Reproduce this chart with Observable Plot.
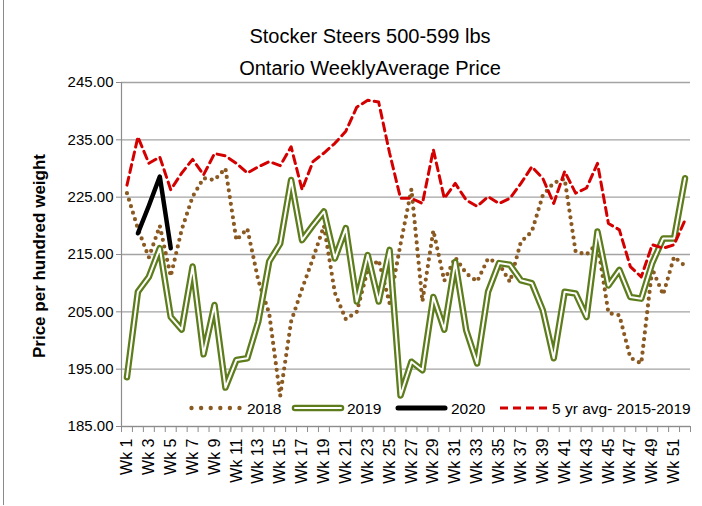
<!DOCTYPE html>
<html><head><meta charset="utf-8">
<script src="https://cdn.jsdelivr.net/npm/d3@7"></script>
<script src="https://cdn.jsdelivr.net/npm/@observablehq/plot@0.6"></script>
<style>
body{margin:0;background:#fff;}
#wrap{position:relative;width:702px;height:506px;overflow:hidden;background:#fff;font-family:"Liberation Sans",Arial,sans-serif;}
#frame{position:absolute;left:3px;top:0;width:698px;height:505px;border-left:1px solid #8a8a8a;box-sizing:border-box;pointer-events:none}
.title{position:absolute;left:0;width:740px;text-align:center;font-size:20px;color:#000;line-height:32px}
#ylab{position:absolute;left:40px;top:256px;transform:translate(-50%,-50%) rotate(-90deg);font-weight:bold;font-size:17px;white-space:nowrap;color:#000}
#overlay{position:absolute;left:0;top:0}
</style></head>
<body><div id="wrap">
<div class="title" style="top:20px">Stocker Steers 500-599 lbs</div>
<div class="title" style="top:52px">Ontario WeeklyAverage Price</div>
<div id="ylab">Price per hundred weight</div>
<div id="frame"></div>
</div>
<script>
const weeks = ["Wk 1","Wk 2","Wk 3","Wk 4","Wk 5","Wk 6","Wk 7","Wk 8","Wk 9","Wk 10","Wk 11","Wk 12","Wk 13","Wk 14","Wk 15","Wk 16","Wk 17","Wk 18","Wk 19","Wk 20","Wk 21","Wk 22","Wk 23","Wk 24","Wk 25","Wk 26","Wk 27","Wk 28","Wk 29","Wk 30","Wk 31","Wk 32","Wk 33","Wk 34","Wk 35","Wk 36","Wk 37","Wk 38","Wk 39","Wk 40","Wk 41","Wk 42","Wk 43","Wk 44","Wk 45","Wk 46","Wk 47","Wk 48","Wk 49","Wk 50","Wk 51","Wk 52"];
const s2018 = [225.7,219.5,214.5,220.0,211.2,219.3,225.1,228.3,228.0,230.0,217.5,219.5,210.5,204.7,190.3,203.3,209.0,214.3,220.0,208.3,203.7,205.0,212.3,214.0,206.5,216.8,226.4,206.8,219.2,210.4,214.5,211.7,210.3,214.3,213.4,210.2,217.2,219.0,225.3,227.5,228.2,215.5,215.0,217.0,204.8,204.4,197.0,196.0,212.5,208.0,214.6,213.0];
const s2019 = [193.6,208.5,211.1,216.1,204.1,201.9,212.9,197.6,206.2,191.8,196.6,196.9,203.3,213.8,216.9,228.0,217.5,220.1,222.5,214.3,219.6,206.8,214.9,206.8,215.8,190.4,196.3,194.8,207.6,201.9,213.7,201.8,196.0,208.5,213.5,213.2,210.5,210.0,205.3,196.9,208.5,208.2,204.1,219.0,209.6,212.3,207.6,207.3,213.5,217.8,217.8,228.3];
const s2020 = [null,218.7,223.5,228.6,216.1];
const avg5 = [227.1,235.5,230.9,232.0,226.3,229.2,231.6,228.9,232.6,232.2,230.9,229.2,230.3,231.2,230.5,233.8,226.3,231.2,232.7,234.4,236.5,240.7,241.9,241.6,232.7,224.8,224.8,223.9,233.3,224.8,227.4,224.5,223.4,225.1,223.9,224.8,227.4,230.3,228.3,223.9,229.5,225.7,226.6,230.9,220.4,219.3,212.9,211.1,216.7,216.1,216.7,221.0];
const yTicks = [185,195,205,215,225,235,245];
const seriesNames = ["2018","2019","2020","5 yr avg- 2015-2019"];

const toRows = arr => arr.map((v,i)=>({x:i+0.5, v})).filter(d=>d.v!=null);
const r2018 = toRows(s2018), r2019 = toRows(s2019), r2020 = toRows(s2020), rAvg = toRows(avg5);

const GREEN = "#5d7c1b", BROWN = "#8a5a22", RED = "#d40000", GRID = "#a3a3a3", AX = "#8c8c8c";
const labelTicks = d3.range(0, weeks.length, 2).map(i => i + 0.5);

const chart = Plot.plot({
  width: 702, height: 506,
  marginLeft: 121, marginRight: 12, marginTop: 82, marginBottom: 80,
  style: {fontFamily: '"Liberation Sans",Arial,sans-serif', fontSize: "15px", color: "#000", background: "transparent", overflow: "visible"},
  x: {type: "linear", domain: [0, weeks.length]},
  y: {domain: [185, 245]},
  marks: [
    Plot.gridY(yTicks, {stroke: GRID, strokeOpacity: 1, strokeWidth: 1.3}),
    Plot.axisY(yTicks, {tickFormat: d => d.toFixed(2), tickSize: 5, tickPadding: 3, stroke: AX, fontSize: 15, label: null}),
    Plot.ruleX([0], {stroke: AX, strokeWidth: 1.2}),
    Plot.ruleY([185], {stroke: AX, strokeWidth: 1.2}),
    Plot.axisX(d3.range(0, weeks.length + 1), {tickFormat: () => "", tickSize: 6, stroke: AX, label: null}),
    Plot.axisX(labelTicks, {tickFormat: d => weeks[Math.round(d - 0.5)], tickRotate: -90, tickSize: 0, tickPadding: 12, fontSize: 16, label: null}),
    Plot.line(r2018, {x: "x", y: "v", stroke: BROWN, strokeWidth: 4.2, strokeDasharray: "0 6.8", strokeLinecap: "round", strokeLinejoin: "round"}),
    Plot.line(r2019, {x: "x", y: "v", stroke: GREEN, strokeWidth: 6.5, strokeLinejoin: "round", strokeLinecap: "round"}),
    Plot.line(r2019, {x: "x", y: "v", stroke: "#fff", strokeWidth: 2, strokeLinejoin: "round", strokeLinecap: "round"}),
    Plot.line(r2020, {x: "x", y: "v", stroke: "#000", strokeWidth: 4.5, strokeLinejoin: "round", strokeLinecap: "round"}),
    Plot.line(rAvg, {x: "x", y: "v", stroke: RED, strokeWidth: 3, strokeDasharray: "8 5", strokeLinejoin: "round"})
  ]
});
const wrap = document.getElementById("wrap");
wrap.insertBefore(chart, wrap.firstChild);

// Legend overlay (positioned within the plot area, like the original)
const ov = d3.select(wrap).append("svg").attr("id","overlay").attr("width",702).attr("height",506)
  .style("font-family", '"Liberation Sans",Arial,sans-serif').style("font-size","15.5px");
const LY = 408;
const lg = ov.append("g");
lg.selectAll("circle").data(d3.range(6)).join("circle").attr("cx", i => 191.5 + i*9.6).attr("cy", LY).attr("r", 2.2).attr("fill", BROWN);
lg.append("text").attr("x", 247).attr("y", LY + 6).text(seriesNames[0]);
lg.append("line").attr("x1",295).attr("x2",341).attr("y1",LY).attr("y2",LY).attr("stroke",GREEN).attr("stroke-width",6.5).attr("stroke-linecap","round");
lg.append("line").attr("x1",295).attr("x2",341).attr("y1",LY).attr("y2",LY).attr("stroke","#fff").attr("stroke-width",2).attr("stroke-linecap","round");
lg.append("text").attr("x", 347).attr("y", LY + 6).text(seriesNames[1]);
lg.append("line").attr("x1",398).attr("x2",445).attr("y1",LY).attr("y2",LY).attr("stroke","#000").attr("stroke-width",5).attr("stroke-linecap","round");
lg.append("text").attr("x", 451).attr("y", LY + 6).text(seriesNames[2]);
lg.append("line").attr("x1",500).attr("x2",549).attr("y1",LY).attr("y2",LY).attr("stroke",RED).attr("stroke-width",3).attr("stroke-dasharray","8 5");
lg.append("text").attr("x", 552).attr("y", LY + 6).text(seriesNames[3]);
</script>
</body></html>
